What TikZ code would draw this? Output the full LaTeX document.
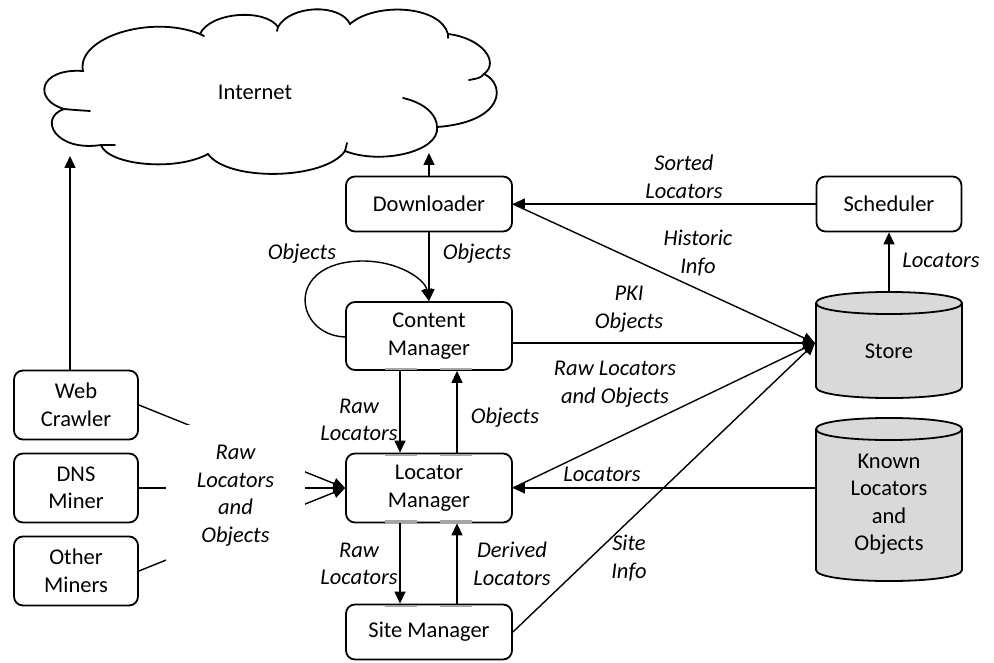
\documentclass[tikz,border=0pt]{standalone}
\usepackage{fontspec}
\setmainfont{Carlito}
\usetikzlibrary{arrows.meta}
\begin{document}
\begin{tikzpicture}[x=1pt,y=-1pt,
  every node/.style={font=\fontsize{22.5}{27.5}\selectfont, align=center, inner sep=0pt},
  proc/.style={draw, line width=1.8pt, rounded corners=9pt, fill=white,
    minimum width=166pt, minimum height=55pt},
  miner/.style={proc, minimum width=124pt, minimum height=69pt},
  conn/.style={line width=1.4pt},
  arr/.style={conn, -{Triangle[length=12pt,width=11pt]}},
  lbl/.style={font=\fontsize{22.5}{27.5}\selectfont\itshape},
  cylbody/.style={draw, line width=1.8pt, fill=cylgray},
  tick/.style={draw=black!35, line width=2.2pt},
  cloudline/.style={line width=1.8pt, line cap=round}
]
\definecolor{cylgray}{HTML}{D9D9D9}
\useasboundingbox (0,0) rectangle (994,663);
\fill[white] (0,0) rectangle (994,663);

% ---- cloud ----
\draw[cloudline, fill=white]
  (83,71) .. controls (76,38) and (150,14) .. (200,34)
  .. controls (210,12) and (265,8) .. (278,27)
  .. controls (290,5) and (340,3) .. (350,24)
  .. controls (375,2) and (440,5) .. (448,34)
  .. controls (482,38) and (500,62) .. (484,74)
  .. controls (506,84) and (505,122) .. (437,127)
  .. controls (440,152) and (380,165) .. (345,151)
  .. controls (325,180) and (228,182) .. (208,154)
  .. controls (175,172) and (108,165) .. (101,145)
  .. controls (55,152) and (38,118) .. (64,109)
  .. controls (33,100) and (38,68) .. (83,71) -- cycle;
\draw[cloudline] (484,74) .. controls (480,78) .. (469,80);
\draw[cloudline] (403,98) .. controls (425,103) and (437,115) .. (437,127);
\draw[cloudline] (345,151) .. controls (346,147) .. (347,143);
\draw[cloudline] (101,145) .. controls (108,145) .. (115,145);
\draw[cloudline] (64,109) .. controls (75,110) .. (90,111);
\draw[cloudline] (200,34) -- (204,36);
\draw[cloudline] (278,27) -- (277,31);
\draw[cloudline] (448,34) -- (448,38);
\node (inet) at (255,92) {Internet};
\coordinate (inetA) at (70,156);
\coordinate (inetB) at (429,153);

% ---- cylinders (store and known locators) ----
\path[cylbody] (816,303) -- (816,387)
  .. controls (816,401.7) and (962,401.7) .. (962,387) -- (962,303)
  .. controls (962,288.3) and (816,288.3) .. (816,303) -- cycle;
\draw[line width=1.8pt] (816,303) .. controls (816,317.7) and (962,317.7) .. (962,303);
\path[cylbody] (816,429) -- (816,570)
  .. controls (816,584.7) and (962,584.7) .. (962,570) -- (962,429)
  .. controls (962,414.3) and (816,414.3) .. (816,429) -- cycle;
\draw[line width=1.8pt] (816,429) .. controls (816,443.7) and (962,443.7) .. (962,429);
\node[minimum width=146pt, minimum height=106pt] (store) at (889,345) {};
\node at (889,351) {Store};
\node[minimum width=146pt, minimum height=163pt] (known) at (889,499.5) {};
\node at (889,504) {Known\\Locators\\and\\Objects};
\coordinate (storein) at (815,343);

% ---- process boxes ----
\node[proc] (dl) at (429,204) {Downloader};
\node[proc, minimum height=68pt] (cm) at (429,336) {Content\\Manager};
\node[proc, minimum height=69pt] (lm) at (429,488) {Locator\\Manager};
\node[proc] (sm) at (429,632) {Site Manager};
\node[proc, minimum width=145pt] (sched) at (889,204) {Scheduler};
\node[miner] (wc) at (76,405) {Web\\Crawler};
\node[miner] (dns) at (76,488) {DNS\\Miner};
\node[miner] (om) at (76,571) {Other\\Miners};

% ---- connection marks on box edges ----
\foreach \n/\s in {cm.south/2, lm.north/-2, lm.south/2, sm.north/-2} {
  \draw[tick] ([xshift=-44pt, yshift=\s pt]\n) -- ([xshift=-12pt, yshift=\s pt]\n);
  \draw[tick] ([xshift=11pt, yshift=\s pt]\n) -- ([xshift=43pt, yshift=\s pt]\n);
}

% ---- connectors ----
\draw[arr] (wc.north -| inetA) -- (inetA);
\draw[arr] (dl.north) -- (inetB);
\draw[arr] (sched.west) -- (dl.east);
\draw[arr] (store.north) -- (sched.south);
\draw[arr] (dl.south) -- (cm.north);
\draw[arr] ([yshift=-1pt]cm.west) .. controls (294,335) and (284,262) .. (362,261)
  .. controls (400,261) and (425,280) .. (cm.north);
\draw[arr] (dl.east) -- (storein);
\draw[arr] (cm.east |- storein) -- (storein);
\draw[arr] (lm.east) -- (storein);
\draw[arr] (sm.east) -- (storein);
\draw[arr] (known.west |- lm.east) -- (lm.east);
\draw[arr] ([xshift=-29pt]cm.south) -- ([xshift=-29pt]lm.north);
\draw[arr] ([xshift=28pt]lm.north) -- ([xshift=28pt]cm.south);
\draw[arr] ([xshift=-29pt]lm.south) -- ([xshift=-29pt]sm.north);
\draw[arr] ([xshift=28pt]sm.north) -- ([xshift=28pt]lm.south);
\draw[arr] (wc.east) -- (lm.west);
\draw[arr] (dns.east) -- (lm.west);
\draw[arr] (om.east) -- (lm.west);

% ---- labels ----
\node[lbl, fill=white, minimum width=139pt, minimum height=141pt] (minerlbl) at (235.5,495.5)
  {Raw\\Locators\\and\\Objects};
\node[lbl] (l1) at (684,177) {Sorted\\Locators};
\node[lbl] (l2) at (698,253) {Historic\\Info};
\node[lbl] (l3) at (629,309) {PKI\\Objects};
\node[lbl] (l4) at (615,384) {Raw Locators\\and Objects};
\node[lbl] (l5) at (602,474) {Locators};
\node[lbl] (l6) at (629,558) {Site\\Info};
\node[lbl] (l7) at (941,260) {Locators};
\node[lbl] (l8) at (477,254) {Objects};
\node[lbl] (l9) at (302,254) {Objects};
\node[lbl] (l10) at (359,420) {Raw\\Locators};
\node[lbl] (l11) at (505,418) {Objects};
\node[lbl] (l12) at (359,564) {Raw\\Locators};
\node[lbl] (l13) at (512,564) {Derived\\Locators};
\end{tikzpicture}
\end{document}
